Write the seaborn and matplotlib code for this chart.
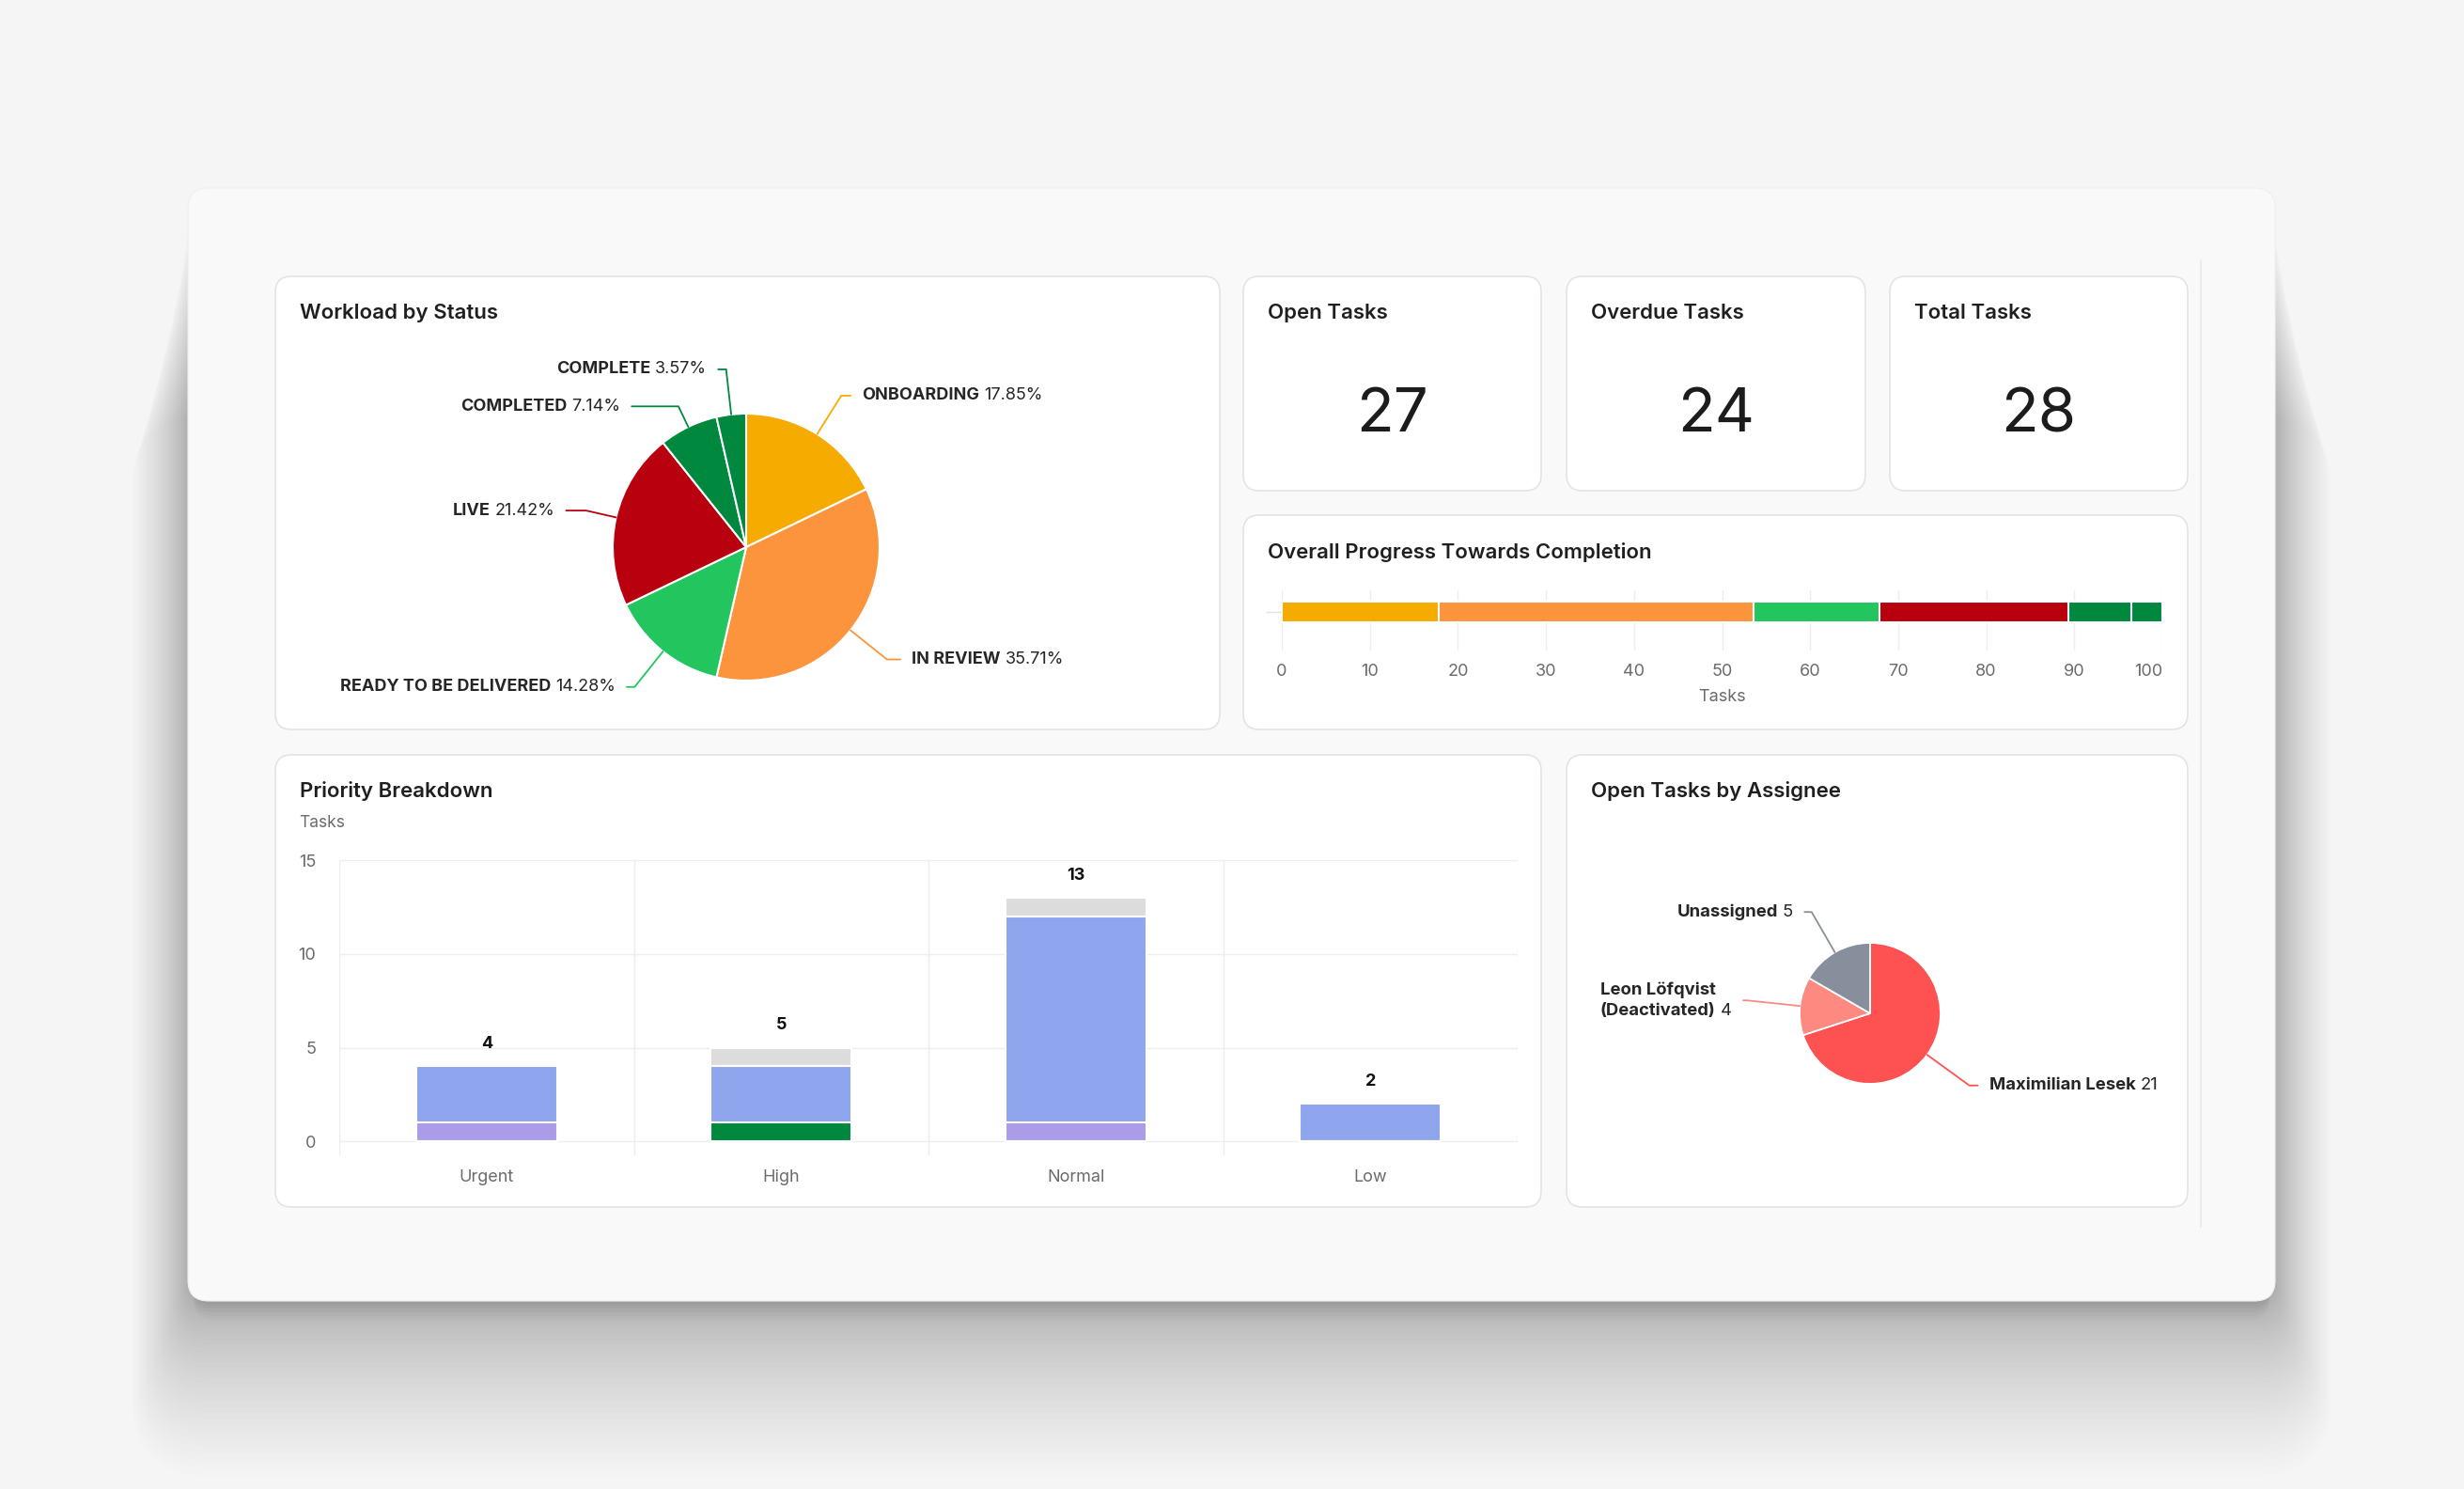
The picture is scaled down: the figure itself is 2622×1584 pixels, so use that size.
import math
import matplotlib
matplotlib.use('Agg')
import matplotlib.pyplot as plt
import matplotlib.transforms as mtransforms
from matplotlib.patches import FancyBboxPatch
import numpy as np
import seaborn as sns

W, H, DPI = 2622, 1584, 100

# Workload by status (task counts)
status_names = ['ONBOARDING', 'IN REVIEW', 'READY TO BE DELIVERED', 'LIVE', 'COMPLETED', 'COMPLETE']
status_counts = [5, 10, 4, 6, 2, 1]
status_colors = ['#f6ab00', '#fb943d', '#22c55e', '#b9000e', '#00883f', '#00883f']

# KPI cards
kpi_titles = ['Open Tasks', 'Overdue Tasks', 'Total Tasks']
kpi_values = [27, 24, 28]

# Priority breakdown (stacked segments, bottom to top)
priorities = ['Urgent', 'High', 'Normal', 'Low']
prio_purple = [1, 0, 1, 0]
prio_green = [0, 1, 0, 0]
prio_blue = [3, 3, 11, 2]
prio_gray = [0, 1, 1, 0]

# Open tasks by assignee
assignees = ['Maximilian Lesek', 'Leon Löfqvist\n(Deactivated)', 'Unassigned']
assignee_counts = [21, 4, 5]
assignee_colors = ['#fe5151', '#fd8a80', '#878f9c']

sns.set_theme(style='white')
plt.rcParams['font.family'] = ['Inter', 'DejaVu Sans']

TITLE = '#1f1f1f'
TICK = '#6b6b6b'

fig = plt.figure(figsize=(W / DPI, H / DPI), dpi=DPI)
fig.patch.set_facecolor('#f5f5f5')


def frac(x0, y0, x1, y1):
    return [x0 / W, 1 - y1 / H, (x1 - x0) / W, (y1 - y0) / H]


# background, shadow, card and panels (pixel coordinates)
bg = fig.add_axes([0, 0, 1, 1], zorder=-5)
bg.set_xlim(0, W)
bg.set_ylim(H, 0)
bg.axis('off')

card = (200, 200, 2421, 1384)
for i in range(36):
    s = 1.0 * i + 0.02 * i * i
    top = card[1] + 30 + 6 * i
    bot = card[3] + 2.5 * i + 0.08 * i * i
    bg.add_patch(FancyBboxPatch((card[0] - s, top), card[2] - card[0] + 2 * s, bot - top,
                                boxstyle=f'round,pad=0,rounding_size={22 + s}',
                                fc='black', ec='none', alpha=0.0075))
for i in range(6):
    bg.add_patch(FancyBboxPatch((card[0] + 6, card[1] + 100), card[2] - card[0] - 12,
                                card[3] - card[1] - 100 + 4 * i,
                                boxstyle='round,pad=0,rounding_size=22',
                                fc='black', ec='none', alpha=0.02))
bg.add_patch(FancyBboxPatch((card[0], card[1]), card[2] - card[0], card[3] - card[1],
                            boxstyle='round,pad=0,rounding_size=22', fc='#f9f9f9', ec='#efefef', lw=0.8))

p_status = (293, 294, 1298, 776)
p_kpis = [(1323, 294, 1640, 522), (1667, 294, 1985, 522), (2011, 294, 2328, 522)]
p_prog = (1323, 548, 2328, 776)
p_prio = (293, 803, 1640, 1284)
p_asg = (1667, 803, 2328, 1284)

for (x0, y0, x1, y1) in [p_status, *p_kpis, p_prog, p_prio, p_asg]:
    bg.add_patch(FancyBboxPatch((x0, y0), x1 - x0, y1 - y0, boxstyle='round,pad=0,rounding_size=17',
                                fc='white', ec='#e4e4e4', lw=1.2))

bg.plot([2342, 2342], [277, 1305], color='#e9e9e9', lw=1.2)


def panel_title(panel, text):
    bg.text(panel[0] + 26, panel[1] + 39, text, fontsize=16, fontweight='semibold',
            color=TITLE, ha='left', va='center')


panel_title(p_status, 'Workload by Status')
panel_title(p_prog, 'Overall Progress Towards Completion')
panel_title(p_prio, 'Priority Breakdown')
panel_title(p_asg, 'Open Tasks by Assignee')
for panel, title, value in zip(p_kpis, kpi_titles, kpi_values):
    panel_title(panel, title)
    bg.text((panel[0] + panel[2]) / 2, panel[1] + 148, str(value), fontsize=47,
            color='#1c1c1c', ha='center', va='center')

renderer = fig.canvas.get_renderer()


def rich_text(ax, x, y, bold, plain, side, size, gap=12):
    space = size * DPI / 72 * 0.28
    kw = dict(va='center', fontsize=size, color='#262626')
    off = lambda dx, dy=0: mtransforms.offset_copy(ax.transData, fig=fig, x=dx, y=dy, units='dots')
    if side > 0:
        t1 = ax.text(x, y, bold, ha='left', fontweight='bold', transform=off(gap), **kw)
        w1 = t1.get_window_extent(renderer).width
        ax.text(x, y, plain, ha='left', transform=off(gap + w1 + space), **kw)
    else:
        t2 = ax.text(x, y, plain, ha='right', transform=off(-gap), **kw)
        b2 = t2.get_window_extent(renderer)
        t1 = ax.text(x, y, bold, ha='right', multialignment='left', fontweight='bold',
                     linespacing=1.35, transform=off(-gap - b2.width - space), **kw)
        b1 = t1.get_window_extent(renderer)
        if '\n' in bold:
            t2.set_transform(off(-gap, -(b1.height - b2.height) / 2))


def pie_panel(panel, cx, cy, R, values, colors, names, texts, label_r, legs, size, lw):
    ax = fig.add_axes(frac(*panel))
    wedges, _ = ax.pie(values, colors=colors, startangle=90, counterclock=False, radius=1,
                       wedgeprops=dict(edgecolor='white', linewidth=lw))
    for w, name, txt, r, leg in zip(wedges, names, texts, label_r, legs):
        ang = math.radians((w.theta1 + w.theta2) / 2)
        ex, ey = math.cos(ang), math.sin(ang)
        bx, by = r * ex, r * ey
        side = 1 if ex >= 0 else -1
        lx = bx + side * leg
        ax.plot([ex, bx, lx], [ey, by, by], color=w.get_facecolor(), lw=1.3, solid_joinstyle='miter')
        rich_text(ax, lx, by, name, txt, side, size)
    x0, y0, x1, y1 = panel
    ax.set_xlim((x0 - cx) / R, (x1 - cx) / R)
    ax.set_ylim((cy - y1) / R, (cy - y0) / R)
    ax.set_aspect('auto')
    ax.axis('off')
    return ax


total_status = sum(status_counts)
status_pcts = [f'{math.floor(v / total_status * 10000) / 100:.2f}%' for v in status_counts]
pie_panel(p_status, 794, 582, 142, status_counts, status_colors, status_names, status_pcts,
          [1.34, 1.35, 1.34, 1.23, 1.17, 1.34], [0.07, 0.1, 0.06, 0.15, 0.35, 0.06], 13, 1.5)

pie_panel(p_asg, 1990, 1078, 75, assignee_counts, assignee_colors, assignees,
          [str(v) for v in assignee_counts], [1.74, 1.76, 1.66], [0.12, 0.05, 0.1], 13.3, 1.3)

# overall progress bar: layered cumulative bars
cum = np.cumsum(status_counts) / total_status * 100
axp = fig.add_axes(frac(1364, 628, 2301, 692))
for i in reversed(range(len(cum))):
    sns.barplot(x=[cum[i]], y=['Tasks'], orient='h', color=status_colors[i], saturation=1,
                width=0.6, errorbar=None, edgecolor='white', linewidth=1.5, ax=axp)
axp.set_xlim(0, 100)
axp.set_ylim(1.12, -0.63)
axp.set_xticks(range(0, 101, 10))
axp.grid(axis='x', color='#eeeeee', lw=1)
axp.set_axisbelow(True)
for s in axp.spines.values():
    s.set_visible(False)
axp.tick_params(axis='x', length=0, pad=10, labelsize=13, labelcolor=TICK)
axp.tick_params(axis='y', left=True, length=12, width=1, color='#e2e2e2', labelleft=False)
axp.get_xticklabels()[-1].set_ha('right')
axp.set_xlabel('Tasks', fontsize=13, color=TICK, labelpad=7)
axp.set_ylabel('')

# priority breakdown: layered stacked bars
totals = [a + b + c + d for a, b, c, d in zip(prio_purple, prio_green, prio_blue, prio_gray)]
lower = [a + b + c for a, b, c in zip(prio_purple, prio_green, prio_blue)]
axb = fig.add_axes(frac(361, 915, 1615, 1229))
bar_kw = dict(saturation=1, width=0.48, errorbar=None, edgecolor='white', linewidth=1.5, ax=axb)
sns.barplot(x=priorities, y=totals, color='#dcdcdc', **bar_kw)
sns.barplot(x=priorities, y=lower, color='#8fa5ed', **bar_kw)
sns.barplot(x=priorities, y=prio_purple, color='#ab9be9', **bar_kw)
sns.barplot(x=priorities, y=prio_green, color='#00883f', **bar_kw)
axb.bar_label(axb.containers[0], labels=[str(t) for t in totals], padding=11,
              fontsize=13, fontweight='bold', color='#111111')
axb.set_xlim(-0.5, 3.5)
axb.set_ylim(-0.75, 15.02)
axb.set_yticks([0, 5, 10, 15])
axb.set_xticks([-0.5, 0.5, 1.5, 2.5, 3.5], minor=True)
axb.grid(axis='y', which='major', color='#eeeeee', lw=1)
axb.grid(axis='x', which='minor', color='#eeeeee', lw=1)
axb.set_axisbelow(True)
for s in axb.spines.values():
    s.set_visible(False)
axb.tick_params(axis='both', which='both', length=0, labelsize=13, labelcolor=TICK)
axb.tick_params(axis='x', pad=11)
axb.tick_params(axis='y', pad=18)
axb.set_xlabel('')
axb.set_ylabel('')
bg.text(318, 875, 'Tasks', fontsize=12.5, color=TICK, ha='left', va='center')

fig.savefig('out.png', dpi=DPI, facecolor=fig.get_facecolor())
